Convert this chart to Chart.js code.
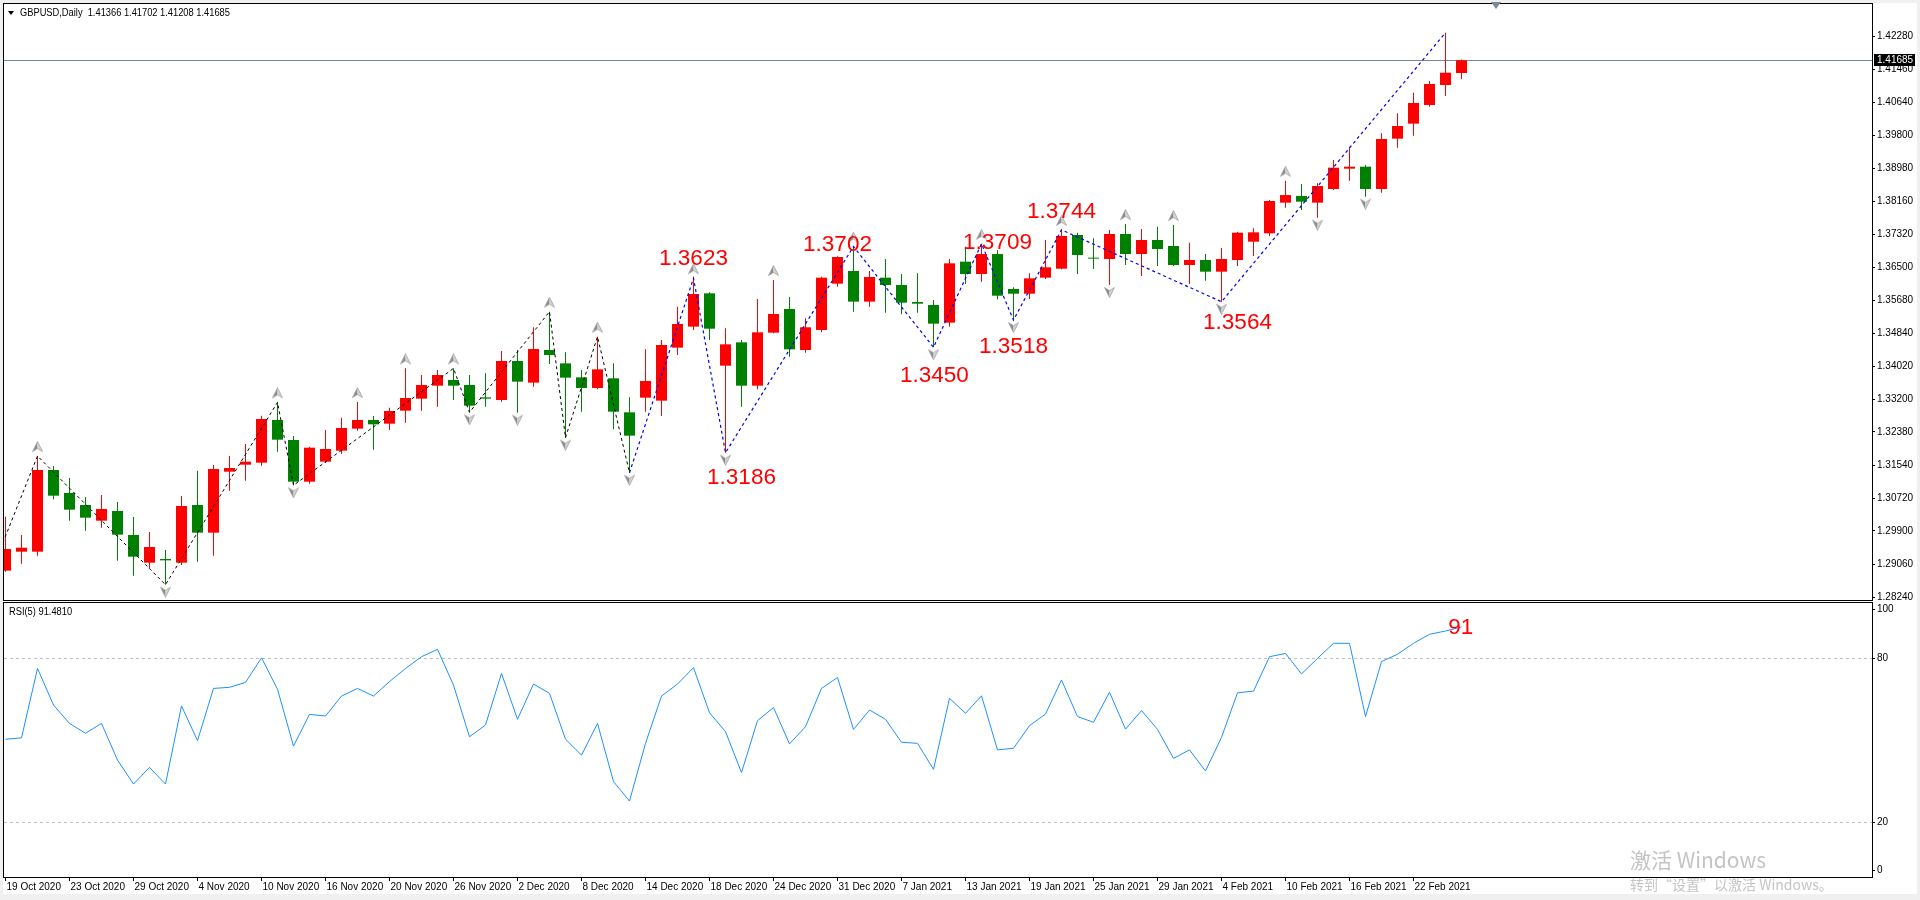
<!DOCTYPE html>
<html><head><meta charset="utf-8">
<script src="https://cdn.jsdelivr.net/npm/chart.js@4.4.1/dist/chart.umd.min.js"></script>
<style>
html,body{margin:0;padding:0;background:#f0f0f0;width:1920px;height:900px;overflow:hidden;}
#panel{position:absolute;left:3px;top:3px;width:1914px;height:891px;background:#fff;}
canvas{position:absolute;left:0;}
#cA{top:0;}
#cB{top:601px;}
.t{position:absolute;font-family:"Liberation Sans",Arial,sans-serif;font-size:10px;line-height:12px;color:#000;white-space:nowrap;transform:scaleX(0.93);transform-origin:0 50%;}
.wm{position:absolute;font-family:"Noto Sans CJK SC","Noto Sans",sans-serif;color:#c4c4c4;white-space:nowrap;}
#tri{position:absolute;left:8px;top:11px;width:0;height:0;border-left:3.5px solid transparent;border-right:3.5px solid transparent;border-top:4px solid #000;}
#shift{position:absolute;left:1491px;top:2px;width:0;height:0;border-left:5px solid transparent;border-right:5px solid transparent;border-top:7px solid #7a8896;}
</style></head><body>
<div id="panel"></div>
<canvas id="cA" width="1920" height="601"></canvas>
<canvas id="cB" width="1920" height="292"></canvas>
<div id="tri"></div>
<div id="shift"></div>
<div class="t" id="hdr" style="left:20px;top:7px"></div>
<div class="t" id="rsiHdr" style="left:9px;top:606px"></div>
<div class="wm" style="left:1630px;top:846px;font-size:21px;line-height:26px">激活 Windows</div>
<div class="wm" style="left:1630px;top:875px;font-size:14px;line-height:18px">转到“设置”以激活 Windows。</div>
<script>
// ---------------- DATA ----------------
const symbol = 'GBPUSD,Daily';
const dates = ['19 Oct 2020','20 Oct 2020','21 Oct 2020','22 Oct 2020','23 Oct 2020','26 Oct 2020','27 Oct 2020','28 Oct 2020','29 Oct 2020','30 Oct 2020',
'2 Nov 2020','3 Nov 2020','4 Nov 2020','5 Nov 2020','6 Nov 2020','9 Nov 2020','10 Nov 2020','11 Nov 2020','12 Nov 2020','13 Nov 2020',
'16 Nov 2020','17 Nov 2020','18 Nov 2020','19 Nov 2020','20 Nov 2020','23 Nov 2020','24 Nov 2020','25 Nov 2020','26 Nov 2020','27 Nov 2020',
'30 Nov 2020','1 Dec 2020','2 Dec 2020','3 Dec 2020','4 Dec 2020','7 Dec 2020','8 Dec 2020','9 Dec 2020','10 Dec 2020','11 Dec 2020',
'14 Dec 2020','15 Dec 2020','16 Dec 2020','17 Dec 2020','18 Dec 2020','21 Dec 2020','22 Dec 2020','23 Dec 2020','24 Dec 2020','28 Dec 2020',
'29 Dec 2020','30 Dec 2020','31 Dec 2020','4 Jan 2021','5 Jan 2021','6 Jan 2021','7 Jan 2021','8 Jan 2021','11 Jan 2021','12 Jan 2021',
'13 Jan 2021','14 Jan 2021','15 Jan 2021','18 Jan 2021','19 Jan 2021','20 Jan 2021','21 Jan 2021','22 Jan 2021','25 Jan 2021','26 Jan 2021',
'27 Jan 2021','28 Jan 2021','29 Jan 2021','1 Feb 2021','2 Feb 2021','3 Feb 2021','4 Feb 2021','5 Feb 2021','8 Feb 2021','9 Feb 2021',
'10 Feb 2021','11 Feb 2021','12 Feb 2021','15 Feb 2021','16 Feb 2021','17 Feb 2021','18 Feb 2021','19 Feb 2021','22 Feb 2021','23 Feb 2021',
'24 Feb 2021','25 Feb 2021'];

const open = [1.28907,1.29382,1.29382,1.31427,1.30851,1.30551,1.30158,1.30400,1.29800,1.29107,
1.29199,1.29107,1.30551,1.29858,1.31385,1.31560,1.31610,1.32679,1.32178,1.31135,
1.31636,1.31911,1.32462,1.32679,1.32587,1.32913,1.33213,1.33538,1.33680,1.33555,
1.33246,1.33180,1.34156,1.33614,1.34431,1.34097,1.33747,1.33480,1.33722,1.32871,
1.33238,1.33163,1.34490,1.35016,1.35850,1.34039,1.34623,1.33538,1.34865,1.35458,
1.34431,1.34932,1.36092,1.36409,1.35642,1.36242,1.36059,1.35633,1.35558,1.35116,
1.36643,1.36334,1.36834,1.35958,1.35841,1.36242,1.36467,1.37310,1.36743,1.36709,
1.37335,1.36834,1.37185,1.37035,1.36559,1.36684,1.36392,1.36684,1.37143,1.37352,
1.38120,1.38286,1.38120,1.38462,1.38971,1.39021,1.38462,1.39722,1.40098,1.40565,
1.41066,1.41366];
const high = [1.30258,1.29800,1.31777,1.31527,1.31227,1.30751,1.30801,1.30626,1.30250,1.29875,
1.29424,1.30776,1.31410,1.31552,1.31777,1.32078,1.32787,1.33121,1.32278,1.32011,
1.32428,1.32737,1.33129,1.32779,1.32987,1.33972,1.33805,1.33931,1.33972,1.33805,
1.33847,1.34406,1.34431,1.35000,1.35391,1.34373,1.33931,1.34765,1.34097,1.33246,
1.34448,1.34682,1.35516,1.36230,1.35875,1.34974,1.34682,1.35708,1.36184,1.35758,
1.35224,1.36267,1.36780,1.37020,1.36409,1.36710,1.36334,1.36351,1.35683,1.36710,
1.37018,1.37090,1.36935,1.36000,1.36350,1.37185,1.37440,1.37368,1.37227,1.37435,
1.37585,1.37460,1.37519,1.37560,1.37118,1.36834,1.36985,1.37393,1.37477,1.38186,
1.38670,1.38587,1.38604,1.39188,1.39522,1.39063,1.39856,1.40356,1.40874,1.41166,
1.42376,1.41702];
const low = [1.28880,1.29082,1.29282,1.30692,1.30158,1.29908,1.29983,1.29157,1.28782,1.28957,
1.28556,1.29049,1.29132,1.29282,1.30909,1.31160,1.31535,1.31886,1.31043,1.31085,
1.31600,1.31827,1.32412,1.31936,1.32428,1.32612,1.32912,1.33013,1.33180,1.32871,
1.33013,1.33138,1.32863,1.33513,1.34081,1.32237,1.32888,1.33447,1.32445,1.31359,
1.32888,1.32779,1.34306,1.34932,1.34682,1.31860,1.33013,1.33447,1.34850,1.34265,
1.34365,1.34874,1.36017,1.35391,1.35516,1.35366,1.35324,1.35366,1.34500,1.35016,
1.36083,1.36142,1.35700,1.35180,1.35708,1.36209,1.36450,1.36334,1.36459,1.36058,
1.36559,1.36284,1.36534,1.36534,1.36083,1.36167,1.35640,1.36534,1.36784,1.37285,
1.37994,1.37936,1.37744,1.38437,1.38671,1.38270,1.38370,1.39497,1.39797,1.40523,
1.40790,1.41208];
const close = [1.29449,1.29482,1.31427,1.30784,1.30434,1.30234,1.30450,1.29808,1.29257,1.29499,
1.29165,1.30526,1.29858,1.31452,1.31477,1.31636,1.32704,1.32186,1.31135,1.31986,
1.31953,1.32478,1.32679,1.32570,1.32904,1.33230,1.33555,1.33805,1.33538,1.33038,
1.33213,1.34156,1.33639,1.34456,1.34306,1.33739,1.33480,1.33947,1.32888,1.32287,
1.33655,1.34557,1.35082,1.35833,1.34965,1.34573,1.33538,1.34874,1.35333,1.34448,
1.35000,1.36242,1.36760,1.35642,1.36259,1.36059,1.35616,1.35591,1.35091,1.36601,
1.36334,1.36834,1.35791,1.35841,1.36225,1.36501,1.37285,1.36809,1.36718,1.37335,
1.36834,1.37185,1.36960,1.36559,1.36684,1.36392,1.36709,1.37368,1.37377,1.38161,
1.38311,1.38145,1.38537,1.38996,1.39021,1.38462,1.39714,1.40039,1.40615,1.41091,
1.41374,1.41685];

const rsi = [50.4,50.9,76.3,62.9,56.2,52.6,56.2,42.8,34.0,40.1,
34.0,62.6,49.9,69.0,69.4,71.2,80.2,68.7,47.9,59.5,
58.9,66.2,69.0,66.2,71.5,76.3,80.6,83.3,70.2,51.3,
55.6,74.5,57.7,70.6,67.2,50.4,44.6,56.2,34.9,27.8,
48.9,66.2,70.6,76.6,60.1,53.2,38.2,57.2,62.0,48.7,
55.0,69.0,73.0,54.0,61.1,57.7,49.3,48.9,39.4,65.4,
59.9,66.3,46.5,47.1,55.4,59.6,72.1,58.7,56.6,67.6,
54.1,60.9,54.0,43.4,46.5,38.8,51.1,67.4,68.0,80.6,
81.8,74.3,80.0,85.5,85.5,58.7,78.8,81.5,85.5,88.8,
90.0,91.481];

const priceTicks = [1.28240,1.29060,1.29900,1.30720,1.31540,1.32380,1.33200,1.34020,1.34840,1.35680,1.36500,1.37320,1.38160,1.38980,1.39800,1.40640,1.41460,1.42280];
const rsiTicks = [100,80,20,0];
const rsiLevels = [80,20];

// zigzag vertices (bar index, price)
const zigBlackIdx = [-1,2,10,17,18,28,29,34,35,37,39];
const zigBlackVal = [1.28770,1.31777,1.28556,1.33121,1.31043,1.33972,1.32871,1.35391,1.32237,1.34765,1.31359];
const zigBlueIdx = [39,43,45,53,58,61,63,66,76,90];
const zigBlueVal = [1.31359,1.36230,1.31860,1.37020,1.34500,1.37090,1.35180,1.37440,1.35640,1.42376];

// fractal bars
const fracUpIdx = [2,17,22,25,28,34,37,43,48,53,61,66,70,73,80];
const fracDnIdx = [10,18,29,32,35,39,45,58,63,69,76,82,85];

// swing labels: text + anchor (bar index, price) of the text centre
const swingText  = ['1.3623','1.3186','1.3702','1.3450','1.3709','1.3518','1.3744','1.3564'];
const swingIdx   = [43.0, 46.0, 52.0, 58.06, 62.0, 63.0, 66.0, 77.0];
const swingPrice = [1.36722,1.31227,1.37073,1.33793,1.37123,1.34519,1.37899,1.35107];
const rsiTagText = '91', rsiTagIdx = 90.95, rsiTagVal = 91.1;

// ---------------- STYLE / LAYOUT ----------------
const RED = '#ff0000', GREEN = '#008000';
const X_MIN = -0.09375, X_MAX = 116.65625;
const P_MIN = 1.281724, P_MAX = 1.4309366;
const R_MIN = 0, R_MAX = 100.25;
const FONT = '"Liberation Sans", Arial, sans-serif';
Chart.defaults.font.family = FONT;
Chart.defaults.color = '#000';

const last = close.length - 1;
document.getElementById('hdr').textContent = symbol + '\u00a0\u00a0' + [open[last],high[last],low[last],close[last]].map(v=>v.toFixed(5)).join(' ');
document.getElementById('rsiHdr').textContent = 'RSI(5) ' + rsi[last].toFixed(4);

function arrowImg(up){
  const c = document.createElement('canvas');
  c.width = 11; c.height = up ? 30 : 26;
  const g = c.getContext('2d');
  g.save();
  if(!up){ g.translate(0,26); g.scale(1,-1); }
  g.beginPath(); g.moveTo(5.5,0.5); g.lineTo(5.5,7.5); g.lineTo(0.5,10.5); g.closePath(); g.fillStyle='#8a8a8a'; g.fill();
  g.beginPath(); g.moveTo(5.5,0.5); g.lineTo(10.5,10.5); g.lineTo(5.5,7.5); g.closePath(); g.fillStyle='#d2d2d2'; g.fill();
  g.strokeStyle='#a4a4a4'; g.lineWidth=0.8;
  g.beginPath(); g.moveTo(5.5,0.5); g.lineTo(10.5,10.5); g.lineTo(5.5,7.5); g.lineTo(0.5,10.5); g.closePath(); g.stroke();
  g.restore();
  return c;
}
const upImg = arrowImg(true), dnImg = arrowImg(false);

const bars = close.map((c,i)=>i);
const candleColor = bars.map(i => close[i] >= open[i] ? RED : GREEN);

const paneBorder = {id:'paneBorder', afterDraw(c){
  const a=c.chartArea, g=c.ctx; g.save(); g.strokeStyle='#000'; g.lineWidth=1;
  g.strokeRect(a.left-0.5, a.top-0.5, a.right-a.left+1, a.bottom-a.top+1); g.restore();
}};

const priceDecor = {id:'priceDecor',
  beforeDatasetsDraw(c){
    const a=c.chartArea, g=c.ctx, y=Math.round(c.scales.y.getPixelForValue(close[last]))+0.5;
    g.save(); g.strokeStyle='rgb(119,136,153)'; g.lineWidth=1;
    g.beginPath(); g.moveTo(a.left,y); g.lineTo(a.right,y); g.stroke(); g.restore();
  },
  afterDatasetsDraw(c){
    const g=c.ctx, xs=c.scales.x, ys=c.scales.y, a=c.chartArea;
    g.save(); g.beginPath(); g.rect(a.left,a.top,a.right-a.left,a.bottom-a.top); g.clip();
    g.font='22.5px '+FONT; g.fillStyle=RED; g.textAlign='center'; g.textBaseline='middle';
    swingText.forEach((t,k)=>g.fillText(t, xs.getPixelForValue(swingIdx[k]), ys.getPixelForValue(swingPrice[k])));
    g.restore();
  },
  afterDraw(c){
    const g=c.ctx, a=c.chartArea, y=Math.round(c.scales.y.getPixelForValue(close[last]));
    g.save(); g.fillStyle='#000'; g.fillRect(a.right+2, y-6, 41, 12);
    g.fillStyle='#fff'; g.font='10px '+FONT; g.textAlign='left'; g.textBaseline='middle';
    g.fillText(close[last].toFixed(5), a.right+5, y+0.5); g.restore();
  }
};

const rsiDecor = {id:'rsiDecor',
  beforeDatasetsDraw(c){
    const a=c.chartArea, g=c.ctx; g.save(); g.strokeStyle='#c0c0c0'; g.lineWidth=1; g.setLineDash([3,3]);
    rsiLevels.forEach(v=>{ const y=Math.round(c.scales.y.getPixelForValue(v))+0.5;
      g.beginPath(); g.moveTo(a.left,y); g.lineTo(a.right,y); g.stroke(); });
    g.restore();
  },
  afterDatasetsDraw(c){
    const g=c.ctx; g.save(); g.font='22.5px '+FONT; g.fillStyle=RED; g.textAlign='center'; g.textBaseline='middle';
    g.fillText(rsiTagText, c.scales.x.getPixelForValue(rsiTagIdx), c.scales.y.getPixelForValue(rsiTagVal)); g.restore();
  }
};

new Chart(document.getElementById('cA'), {
  type:'bar',
  data:{datasets:[
    {type:'bar', data: bars.map(i=>({x:i, y:[low[i],high[i]]})), backgroundColor:candleColor, barThickness:1, grouped:false, inflateAmount:0, borderWidth:0, order:5},
    {type:'bar', data: bars.map(i=>({x:i, y:[open[i],close[i]]})), backgroundColor:candleColor, barThickness:11, grouped:false, inflateAmount:0, borderWidth:0, minBarLength:1, order:4},
    {type:'line', data: zigBlackIdx.map((x,k)=>({x, y:zigBlackVal[k]})), borderColor:'#000', borderWidth:1, borderDash:[3,3], pointRadius:0, tension:0, order:2},
    {type:'line', data: zigBlueIdx.map((x,k)=>({x, y:zigBlueVal[k]})), borderColor:'#0000ee', borderWidth:1.2, borderDash:[3,3], pointRadius:0, tension:0, order:2},
    {type:'line', data: fracUpIdx.map(i=>({x:i, y:high[i]})), showLine:false, pointStyle:upImg, pointRadius:6, order:1},
    {type:'line', data: fracDnIdx.map(i=>({x:i, y:low[i]})), showLine:false, pointStyle:dnImg, pointRadius:6, order:1}
  ]},
  options:{
    responsive:false, animation:false, devicePixelRatio:1, events:[],
    layout:{padding:{left:4, top:4, right:0, bottom:1}, autoPadding:false},
    plugins:{legend:{display:false}, tooltip:{enabled:false}},
    scales:{
      x:{type:'linear', min:X_MIN, max:X_MAX, display:false, offset:false, grid:{display:false}},
      y:{type:'linear', position:'right', min:P_MIN, max:P_MAX,
        afterBuildTicks:s=>{ s.ticks = priceTicks.map(v=>({value:v})); },
        afterFit:s=>{ s.width=48; s.paddingTop=0; s.paddingBottom=0; },
        ticks:{callback:v=>Number(v).toFixed(5), font:{size:10}, color:'#000', padding:2, autoSkip:false},
        grid:{drawOnChartArea:false, drawTicks:true, tickLength:3, color:'#000'},
        border:{display:false}}
    }
  },
  plugins:[priceDecor, paneBorder]
});

new Chart(document.getElementById('cB'), {
  type:'line',
  data:{datasets:[
    {data: bars.map(i=>({x:i, y:rsi[i]})), borderColor:'#1e90ff', borderWidth:1, pointRadius:0, tension:0}
  ]},
  options:{
    responsive:false, animation:false, devicePixelRatio:1, events:[],
    layout:{padding:{left:4, top:2, right:0, bottom:0}, autoPadding:false},
    plugins:{legend:{display:false}, tooltip:{enabled:false}},
    scales:{
      x:{type:'linear', position:'bottom', min:X_MIN, max:X_MAX, offset:false,
        afterBuildTicks:s=>{ s.ticks = bars.filter(i=>i%4===0).map(v=>({value:v})); },
        afterFit:s=>{ s.height=16; s.paddingLeft=0; s.paddingRight=0; },
        ticks:{callback:v=>dates[v], align:'start', labelOffset:1, padding:0, maxRotation:0, minRotation:0, autoSkip:false, font:{size:10}, color:'#000'},
        grid:{drawOnChartArea:false, drawTicks:true, tickLength:4, color:'#000'},
        border:{display:false}},
      y:{type:'linear', position:'right', min:R_MIN, max:R_MAX,
        afterBuildTicks:s=>{ s.ticks = rsiTicks.map(v=>({value: v===100 ? 97.9 : (v===0 ? 2.3 : v), lbl:String(v)})); },
        afterFit:s=>{ s.width=48; s.paddingTop=0; s.paddingBottom=0; },
        ticks:{callback:(v,i,t)=>t[i].lbl, font:{size:10}, color:'#000', padding:2, autoSkip:false},
        grid:{drawOnChartArea:false, drawTicks:true, tickLength:3, color:'#000'},
        border:{display:false}}
    }
  },
  plugins:[rsiDecor, paneBorder]
});
</script>
</body></html>
